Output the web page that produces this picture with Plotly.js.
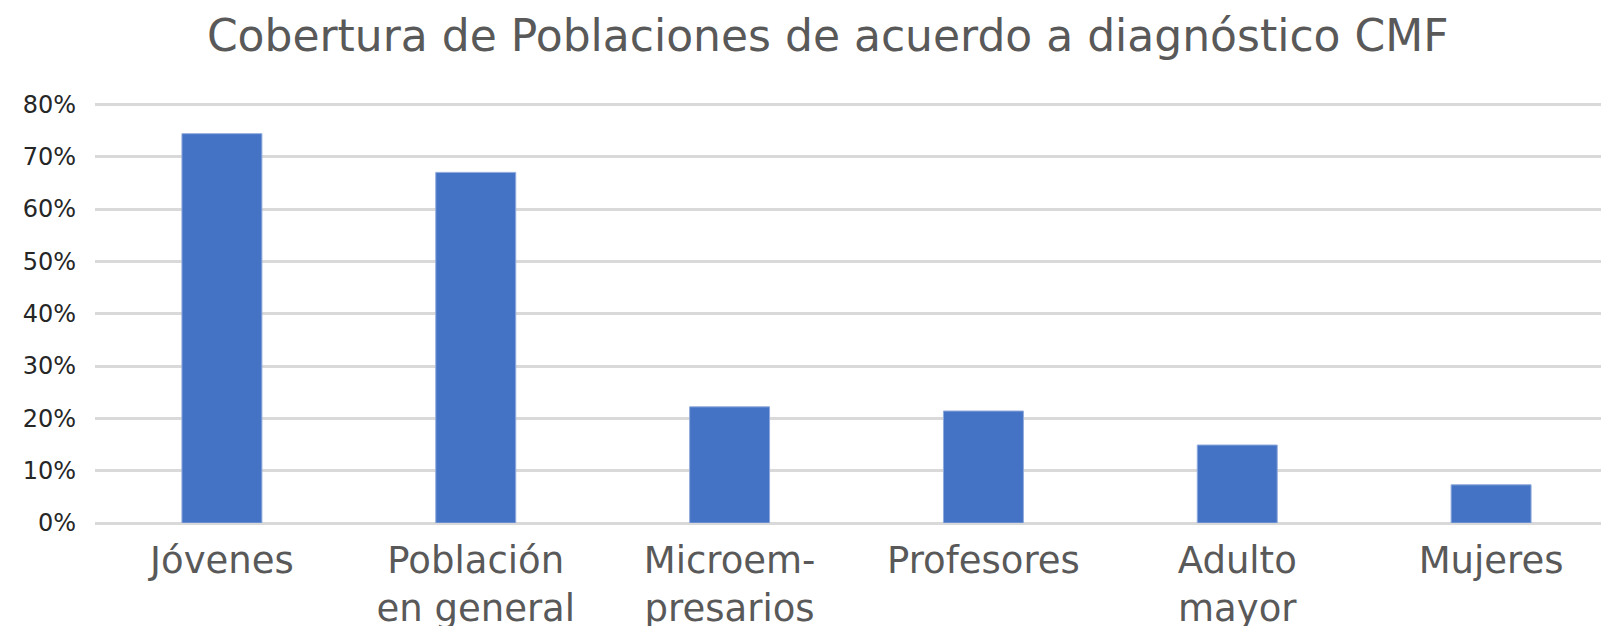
<!DOCTYPE html>
<html>
<head>
<meta charset="utf-8">
<script src="https://cdn.plot.ly/plotly-3.0.1.min.js"></script>
<style>html,body{margin:0;padding:0;background:#fff;overflow:hidden}</style>
</head>
<body>
<div id="chart" style="width:1601px;height:626px"></div>
<script>
const categories = ["Jóvenes", "Población<br>en general", "Microem-<br>presarios", "Profesores", "Adulto<br>mayor", "Mujeres"];
const coverage = [0.744, 0.670, 0.222, 0.214, 0.149, 0.073];
const yTicks = [0, 0.1, 0.2, 0.3, 0.4, 0.5, 0.6, 0.7, 0.8];
const yTickLabels = ["0%", "10%", "20%", "30%", "40%", "50%", "60%", "70%", "80%"];
const chartTitle = "Cobertura de Poblaciones de acuerdo a diagnóstico CMF";

const trace = {
  type: 'bar',
  x: categories,
  y: coverage,
  marker: {color: '#4472C4', line: {color: '#8FAADC', width: 1}},
  hoverinfo: 'none'
};

const layout = {
  width: 1601,
  height: 626,
  paper_bgcolor: '#ffffff',
  plot_bgcolor: '#ffffff',
  margin: {l: 95, r: 0, t: 102, b: 103, pad: 0},
  bargap: 0.685,
  showlegend: false,
  font: {family: 'DejaVu Sans, Verdana, sans-serif', color: '#595959'},
  title: {
    text: chartTitle,
    font: {family: 'DejaVu Sans, Verdana, sans-serif', size: 44, color: '#595959'},
    xref: 'container', x: 0.517, xanchor: 'center',
    yref: 'container', y: 1 - 36/626, yanchor: 'middle'
  },
  xaxis: {
    type: 'category',
    range: [-0.5, 5.433],
    showgrid: false,
    showline: false,
    zeroline: false,
    ticks: '',
    tickfont: {size: 37, color: '#595959'},
    ticklabelstandoff: 12
  },
  yaxis: {
    range: [0, 0.8045],
    tickvals: yTicks,
    ticktext: yTickLabels,
    showgrid: true,
    gridcolor: '#D9D9D9',
    gridwidth: 3,
    zeroline: true,
    zerolinecolor: '#D9D9D9',
    zerolinewidth: 3,
    showline: false,
    ticks: '',
    tickfont: {size: 24, color: '#262626'},
    ticklabelstandoff: 18
  }
};

Plotly.newPlot('chart', [trace], layout, {displayModeBar: false, staticPlot: true});
</script>
</body>
</html>
